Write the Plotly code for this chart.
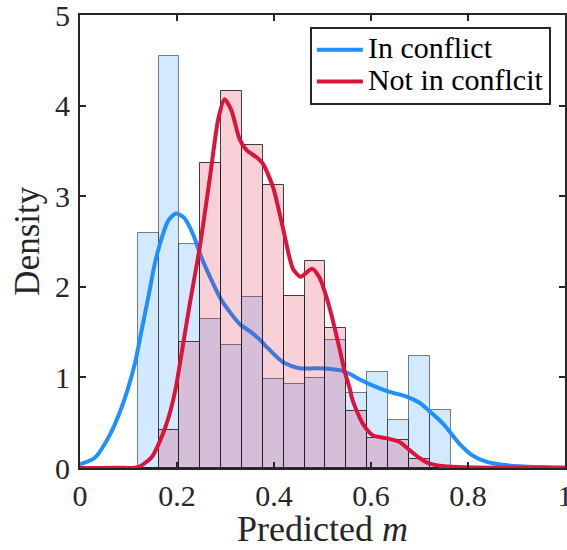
import plotly.graph_objects as go

# ---- data ----
bin_edges = [0.119, 0.162, 0.205, 0.248, 0.291, 0.334, 0.377, 0.420,
             0.463, 0.506, 0.549, 0.592, 0.635, 0.678, 0.721, 0.764]
hist_in_conflict = [2.59, 4.55, 2.47, 1.65, 1.36, 1.89, 0.98, 0.93,
                    0.99, 1.41, 0.83, 1.06, 0.53, 1.24, 0.64]
hist_not_in_conflict = [0.0, 0.42, 1.39, 3.37, 4.16, 3.56, 3.12, 1.90,
                        2.29, 1.55, 0.63, 0.33, 0.31, 0.10, 0.0]

kde_in_x = [0.0, 0.03, 0.058, 0.086, 0.113, 0.127, 0.141, 0.154, 0.168, 0.182,
            0.198, 0.215, 0.233, 0.25, 0.268, 0.292, 0.329, 0.35, 0.37, 0.384,
            0.418, 0.453, 0.487, 0.521, 0.535, 0.556, 0.569, 0.604, 0.638, 0.672,
            0.70, 0.72, 0.741, 0.755, 0.782, 0.809, 0.837, 0.871, 0.905, 0.95, 1.0]
kde_in_y = [0.04, 0.11, 0.33, 0.67, 1.15, 1.52, 1.89, 2.25, 2.53, 2.73,
            2.81, 2.76, 2.58, 2.33, 2.11, 1.85, 1.59, 1.51, 1.42, 1.34,
            1.17, 1.10, 1.10, 1.09, 1.08, 1.04, 1.00, 0.91, 0.84, 0.79,
            0.72, 0.63, 0.53, 0.45, 0.27, 0.14, 0.07, 0.035, 0.02, 0.01, 0.005]

kde_not_x = [0.0, 0.08, 0.12, 0.148, 0.165, 0.176, 0.186, 0.197, 0.206, 0.226,
             0.247, 0.268, 0.285, 0.298, 0.312, 0.329, 0.343, 0.364, 0.377, 0.398,
             0.418, 0.439, 0.455, 0.478, 0.494, 0.514, 0.535, 0.545, 0.556, 0.562,
             0.583, 0.604, 0.631, 0.658, 0.679, 0.70, 0.72, 0.741, 0.78, 0.85, 1.0]
kde_not_y = [0.0, 0.002, 0.01, 0.12, 0.30, 0.45, 0.62, 0.87, 1.15, 1.80,
             2.44, 3.21, 3.85, 4.07, 3.95, 3.63, 3.51, 3.43, 3.36, 3.10,
             2.66, 2.20, 2.11, 2.20, 2.10, 1.78, 1.32, 1.08, 0.88, 0.75,
             0.49, 0.36, 0.33, 0.29, 0.20, 0.11, 0.05, 0.025, 0.01, 0.003, 0.0]

series_names = ["In conflict", "Not in conflcit"]
x_ticks = [0, 0.2, 0.4, 0.6, 0.8, 1]
x_tick_text = ["0", "0.2", "0.4", "0.6", "0.8", "1"]
y_ticks = [0, 1, 2, 3, 4, 5]

# ---- derived ----
centers = [(a + b) / 2 for a, b in zip(bin_edges[:-1], bin_edges[1:])]
widths = [b - a for a, b in zip(bin_edges[:-1], bin_edges[1:])]

BLUE = "#1E90FF"
RED = "#DC143C"
INK = "#262626"
FONT = "Liberation Serif"


def legend_label(s):
    return '<span style="font-size:30px">%s</span>' % s


fig = go.Figure()
fig.add_trace(go.Bar(
    x=centers, y=hist_in_conflict, width=widths, showlegend=False,
    marker=dict(color="rgba(30,144,255,0.2)",
                line=dict(color="rgba(40,40,40,0.6)", width=1)),
    xaxis="x", yaxis="y", hoverinfo="skip"))
fig.add_trace(go.Scatter(
    x=kde_in_x, y=kde_in_y, mode="lines", name=legend_label(series_names[0]),
    line=dict(color=BLUE, width=4, shape="spline", smoothing=0.7),
    cliponaxis=False, xaxis="x", yaxis="y"))
fig.add_trace(go.Bar(
    x=centers, y=hist_not_in_conflict, width=widths, showlegend=False,
    marker=dict(color="rgba(220,20,60,0.2)",
                line=dict(color="rgba(30,30,30,0.85)", width=1)),
    xaxis="x2", yaxis="y2", hoverinfo="skip"))
fig.add_trace(go.Scatter(
    x=kde_not_x, y=kde_not_y, mode="lines", name=legend_label(series_names[1]),
    line=dict(color=RED, width=4, shape="spline", smoothing=0.7),
    cliponaxis=False, xaxis="x2", yaxis="y2"))

axis_common = dict(
    showline=True, linecolor=INK, linewidth=2, mirror="allticks",
    ticks="inside", ticklen=6, tickwidth=1.5, tickcolor=INK,
    showgrid=False, zeroline=False, automargin=False,
    ticklabeloverflow="allow",
    tickfont=dict(family=FONT, size=30, color=INK),
)

fig.update_layout(
    width=567, height=550,
    margin=dict(l=80, r=2, t=15, b=82, autoexpand=False),
    paper_bgcolor="white", plot_bgcolor="white",
    barmode="overlay", bargap=0,
    xaxis=dict(range=[0, 1], tickvals=x_ticks, ticktext=x_tick_text,
               **axis_common),
    yaxis=dict(range=[0, 5], tickvals=y_ticks, ticklabelstandoff=2,
               **axis_common),
    xaxis2=dict(range=[0, 1], overlaying="x", anchor="y2", visible=False),
    yaxis2=dict(range=[0, 5], overlaying="y", anchor="x2", visible=False),
    legend=dict(x=0.474, y=0.9735, xanchor="left", yanchor="top",
                bgcolor="white", bordercolor=INK, borderwidth=2,
                font=dict(family=FONT, size=22, color="black"),
                tracegroupgap=0, itemwidth=46),
    showlegend=True,
    annotations=[
        dict(text="Predicted <i>m</i>", xref="paper", yref="paper",
             x=0.5, y=-0.134, xanchor="center", yanchor="middle",
             showarrow=False, font=dict(family=FONT, size=36, color=INK)),
        dict(text="Density", xref="paper", yref="paper",
             x=-0.109, y=0.5, xanchor="center", yanchor="middle",
             textangle=-90, showarrow=False,
             font=dict(family=FONT, size=35, color=INK)),
    ],
)

fig.write_html("out.html",
               config={"displayModeBar": False},
               post_script="document.body.style.margin='0';"
                           "document.body.style.overflow='hidden';")
